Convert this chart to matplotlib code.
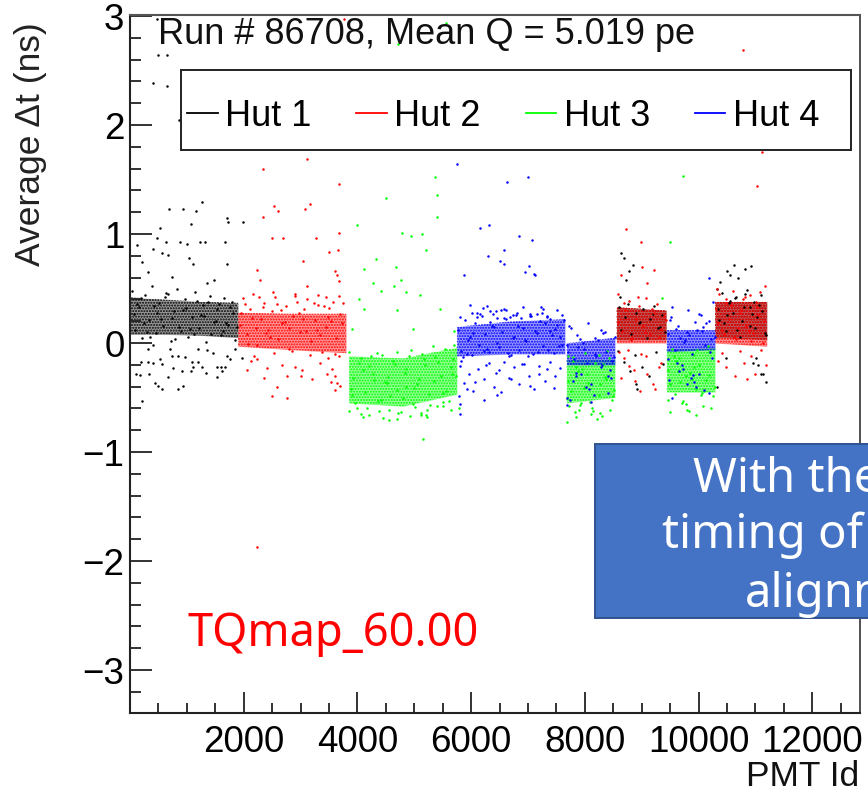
import matplotlib
matplotlib.use("Agg")
import matplotlib.pyplot as plt
from matplotlib.lines import Line2D
from matplotlib.patches import Rectangle

# values
hut1_x = [475, 490, 650, 405, 650, 860, 530, 690, 940, 1160, 1265, 1075, 1710, 1725, 1990, 475,
          120, 405, 565, 670, 215, 1040, 1110, 1710, 315, 740, 1480, 1355, 627, 880, 1008, 1230, 1325, 1677,
          217, 100, 176, 340, 440, 500, 570, 850, 938, 187, 322, 410, 528, 557, 762, 662, 920, 1085, 1200, 1102,
          1260, 1067, 1330, 1525, 1525, 1595, 1670, 1612, 1760, 1700, 733, 850, 967, 703, 322, 410, 1200, 1350,
          1465, 1965, 1846,
          40, 95, 150, 210, 260, 330, 380, 455, 510, 585, 640, 715, 775, 830, 905, 960, 1020, 1085, 1150, 1215,
          1280, 1340, 1410, 1470, 1535, 1600, 1660, 1730, 1790, 1850, 70, 185, 300, 420, 545, 670, 800, 925, 1050,
          1175, 1300, 1430, 1560, 1690, 1820, 120, 240, 360, 480, 610, 745, 870, 990, 1120, 1250, 1380, 1505, 1630,
          1760, 1880,
          8600, 8640, 8700, 8760, 8820, 8900, 8960, 9030, 9090, 9150, 9220, 9290, 9350, 9410, 8590, 8680, 8790,
          8880, 9000, 9120, 9250, 9380, 8620, 8730, 8850, 8970, 9190, 9320, 8900, 8920, 8640, 8680, 8780,
          10320, 10360, 10420, 10480, 10540, 10600, 10660, 10730, 10790, 10850, 10910, 10970, 11030, 11090, 11160,
          10340, 10440, 10560, 10680, 10820, 10940, 11060, 11180, 10380, 10500, 10640, 10770, 10900, 11000, 11120,
          10500, 10560, 10620, 10700, 10820, 10930, 11010, 11100, 11180, 10330, 10480, 11050, 10960, 11140]
hut1_y = [2.97, 2.64, 2.64, 2.39, 2.36, 2.05, 1.06, 1.23, 1.23, 1.21, 1.29, 1.09, 1.15, 1.11, 1.11, 0.96,
          0.90, 0.86, 0.83, 0.81, 0.74, 0.78, 0.73, 0.73, 0.65, 0.61, 0.58, 0.55, 0.93, 0.93, 0.91, 0.93, 0.93, 0.93,
          -0.53, -0.28, -0.29, -0.28, -0.37, -0.39, -0.42, -0.42, -0.39, -0.17, -0.17, -0.18, -0.15, -0.19, -0.23,
          -0.31, -0.26, -0.17, -0.17, -0.22, -0.22, -0.26, -0.27, -0.22, -0.31, -0.22, -0.22, -0.26, -0.15, -0.12,
          -0.12, -0.12, -0.13, -0.05, -0.05, -0.02, -0.05, -0.06, -0.09, -0.14, -0.05,
          0.48, 0.12, 0.33, 0.05, 0.44, 0.21, 0.52, 0.09, 0.37, 0.16, 0.46, 0.02, 0.29, 0.50, 0.11, 0.40, 0.06,
          0.24, 0.47, 0.14, 0.35, 0.01, 0.43, 0.19, 0.31, 0.07, 0.41, 0.17, 0.38, 0.03, 0.27, 0.41, 0.10, 0.34, 0.22,
          0.45, 0.04, 0.30, 0.13, 0.39, 0.25, 0.08, 0.36, 0.18, 0.28, 0.36, 0.18, 0.06, 0.28, 0.42, 0.23, 0.15,
          0.32, 0.08, 0.26, 0.38, 0.20, 0.11, 0.33, 0.15,
          0.33, 0.12, 0.24, 0.36, 0.08, 0.28, 0.18, 0.31, 0.05, 0.22, 0.34, 0.14, 0.26, 0.10, -0.07, -0.17, -0.26,
          -0.11, -0.22, -0.30, -0.08, -0.19, 0.42, 0.58, 0.72, 0.19, 0.27, 0.15, -0.38, -0.42, 0.83, 0.78, 0.66,
          0.50, 0.21, 0.46, 0.11, 0.37, 0.28, 0.42, 0.06, 0.33, 0.49, 0.16, 0.38, 0.24, 0.44, 0.09, 0.31, 0.18, 0.39,
          0.12, 0.45, 0.27, 0.35, 0.07, 0.56, 0.26, 0.41, 0.20, 0.33, 0.14, 0.29, 0.66, 0.62, 0.72, 0.60, 0.68, 0.71,
          -0.14, -0.28, -0.36, -0.40, -0.14, -0.20, -0.18, -0.28]

hut2_x = [3765, 2340, 3110, 3680, 2535, 2600, 3170, 3080, 2340, 3680, 2500, 2690, 3270, 10780, 11115, 11030,
          2230, 3050, 3500, 3660, 2280, 3120, 3640, 3600, 3680, 2520, 2900, 3300, 3450, 3680,
          2060, 2180, 2360, 2410, 2590, 2760, 2900, 3030, 3200, 3340, 3470, 3540, 3610, 3700, 2500, 2760, 3010,
          3600, 3640, 3560, 3480, 2120, 2230, 2680,
          1930, 1990, 2050, 2115, 2170, 2240, 2300, 2365, 2425, 2490, 2550, 2610, 2680, 2740, 2805, 2870, 2930,
          2995, 3060, 3120, 3185, 3250, 3310, 3375, 3440, 3500, 3565, 3625, 3690, 3750, 1960, 2080, 2210, 2340,
          2470, 2590, 2720, 2850, 2970, 3100, 3230, 3350, 3480, 3600, 3720, 2020, 2150, 2270, 2400, 2530, 2660,
          2790, 2910, 3040, 3170, 3290, 3420, 3540, 3670,
          8590, 8650, 8710, 8770, 8830, 8900, 8960, 9020, 9080, 9150, 9210, 9270, 9340, 9400, 8580, 8690, 8810,
          8930, 9050, 9180, 9300, 9420, 8600, 8680, 8770, 8880, 8990, 9100, 9230, 9340, 8640, 8750, 8860,
          8970, 9080, 9190, 9300, 8980, 9210, 8640, 9100,
          10300, 10360, 10420, 10480, 10540, 10600, 10660, 10720, 10780, 10840, 10900, 10960, 11020, 11080, 11150,
          10320, 10440, 10570, 10690, 10810, 10930, 11050, 11170, 10350, 10480, 10620, 10750, 10880, 11010, 11140,
          10350, 10420, 10490, 10640, 10720, 10800, 10930, 11000, 11100, 11190, 10860, 8720, 9010, 2230]
hut2_y = [2.97, 1.60, 1.69, 1.46, 1.26, 1.21, 1.28, 1.23, 1.16, 1.01, 0.96, 0.96, 0.96, 2.69, 1.75, 1.44,
          0.67, 0.75, 0.84, 0.85, 0.58, 0.52, 0.62, 0.66, 0.57, 0.47, 0.45, 0.44, 0.42, 0.43,
          -0.25, -0.12, -0.32, -0.23, -0.40, -0.30, -0.22, -0.25, -0.33, -0.18, -0.28, -0.36, -0.30, -0.39,
          -0.49, -0.50, -0.30, -0.43, -0.37, -0.24, -0.14, -0.16, -0.15, -0.20,
          0.17, 0.41, 0.08, 0.31, 0.45, -0.02, 0.22, 0.37, 0.12, 0.29, 0.42, 0.04, 0.18, 0.34, -0.05, 0.25, 0.38,
          0.10, 0.31, 0.40, 0.02, 0.21, 0.35, -0.08, 0.15, 0.32, 0.38, 0.05, 0.27, 0.37, 0.28, -0.01, 0.14, 0.33,
          0.06, 0.36, 0.19, -0.07, 0.28, 0.11, 0.37, 0.07, 0.24, -0.10, 0.18, 0.36, 0.23, 0.42, 0.09, -0.09, 0.30,
          0.14, 0.43, 0.22, -0.11, 0.12, 0.34, 0.20, -0.12,
          0.45, 0.11, 0.30, 0.39, 0.05, 0.22, 0.34, 0.16, 0.41, 0.08, 0.28, 0.36, 0.13, 0.25, 0.19, 0.37, 0.03,
          0.42, 0.10, 0.31, 0.06, 0.21, -0.08, -0.14, -0.21, -0.35, -0.10, -0.28, -0.42, -0.18, -0.32, -0.06,
          -0.25, -0.44, -0.12, -0.38, -0.22, 0.93, 0.67, 0.62, 0.55,
          0.31, 0.45, 0.12, 0.37, 0.22, 0.48, 0.04, 0.28, 0.40, 0.16, 0.44, 0.09, 0.33, 0.47, 0.20, 0.50, 0.08,
          0.35, 0.14, 0.42, 0.02, 0.26, 0.52, 0.18, 0.40, 0.06, 0.30, 0.11, 0.38, 0.00,
          -0.16, -0.09, -0.22, -0.30, -0.07, -0.18, -0.12, -0.28, -0.06, -0.20, -0.33, 1.05, 0.70, -1.87]

hut3_x = [5560, 4710, 4500, 5365, 5400, 5400, 3990, 4785, 4940, 5135, 4120, 4680, 5200, 4330, 4770, 4420, 4650,
          4270, 5100, 4850, 4020, 5450, 4700, 4980, 5700, 3900, 4120, 5740, 5780, 9730, 9500, 9350,
          3860, 3930, 4000, 4070, 4140, 4210, 4280, 4350, 4420, 4490, 4560, 4630, 4700, 4770, 4840, 4910, 4980,
          5050, 5120, 5190, 5260, 5330, 5400, 5470, 5540, 5610, 5680, 3880, 4020, 4160, 4300, 4440, 4580, 4720,
          4860, 5000, 5140, 5280, 5420, 5560, 5700, 3950, 4100, 4240, 4380, 4520, 4660, 4800, 4940, 5080, 5220,
          5360, 5500, 5640, 3900, 4060, 4210, 4370, 4530, 4690, 4850, 5010, 5170, 5340, 5500, 5660,
          4100, 4450, 4920, 5230, 5120, 4550, 4690, 5500, 3860, 5640, 5160, 5210,
          7700, 7760, 7820, 7880, 7940, 8000, 8060, 8120, 8180, 8240, 8300, 8360, 8420, 8480, 7720, 7850, 7980,
          8110, 8240, 8370, 8500, 7690, 7790, 7910, 8030, 8150, 8270, 8390, 8510, 7700, 7840, 7950, 8090, 8210,
          8320, 8440, 7680, 7900, 8260, 7800,
          9470, 9530, 9590, 9650, 9710, 9770, 9830, 9890, 9950, 10010, 10070, 10130, 10190, 10250, 9490, 9610,
          9730, 9850, 9970, 10090, 10210, 9460, 9560, 9680, 9800, 9920, 10040, 10160, 10280, 9500, 9640, 9780,
          9920, 10060, 9950, 9880, 10190]
hut3_y = [2.94, 2.74, 1.33, 1.52, 1.36, 1.16, 1.08, 1.01, 0.98, 1.0, 0.68, 0.70, 0.85, 0.77, 0.58, 0.48, 0.52,
          0.55, 0.44, 0.47, 0.40, 0.31, 0.30, 0.13, 0.11, 0.13, 0.31, -0.30, -0.60, 1.53, 0.93, 0.41,
          -0.08, -0.32, -0.60, -0.14, -0.45, -0.66, -0.28, -0.09, -0.52, -0.36, -0.61, -0.16, -0.43, -0.63, -0.27,
          -0.12, -0.56, -0.38, -0.66, -0.20, -0.47, -0.03, -0.58, -0.30, -0.05, -0.53, -0.15, -0.42, -0.18, -0.60,
          -0.34, -0.11, -0.49, -0.64, -0.24, -0.41, -0.10, -0.57, -0.17, -0.44, -0.02, -0.55, -0.25, -0.12, -0.62,
          -0.37, -0.19, -0.50, -0.06, -0.33, -0.61, -0.13, -0.46, -0.22, -0.48, -0.65, -0.21, -0.53, -0.31, -0.08,
          -0.40, -0.59, -0.15, -0.35, -0.54, -0.28, -0.68, -0.69, -0.67, -0.68, -0.64, -0.71, -0.70, -0.58, -0.62,
          -0.61, -0.88, -0.66,
          -0.12, -0.44, -0.63, -0.26, -0.55, -0.09, -0.37, -0.60, -0.18, -0.48, -0.67, -0.31, -0.14, -0.52, -0.58,
          -0.22, -0.41, -0.65, -0.11, -0.33, -0.49, -0.72, -0.16, -0.57, -0.28, -0.62, -0.38, -0.07, -0.43, -0.35,
          -0.68, -0.24, -0.54, -0.70, -0.19, -0.61, -0.50, -0.61, -0.64, -0.13,
          -0.25, -0.05, -0.47, -0.14, -0.55, -0.30, -0.62, -0.10, -0.42, -0.20, -0.58, -0.34, -0.08, -0.49, -0.38,
          -0.16, -0.53, -0.27, -0.06, -0.44, -0.60, -0.52, -0.12, -0.36, -0.61, -0.22, -0.48, -0.03, -0.40, -0.63,
          -0.26, -0.56, -0.11, -0.46, -0.66, -0.33, -0.29]

hut4_x = [5750, 6630, 7000, 6160, 6315, 6840, 5870, 6500, 7070, 7120, 7020, 6950, 6580, 6290, 6580, 7110,
          6020, 6110, 6280, 6390, 6450, 6570, 6690, 6800, 6920, 7040, 7160, 7270, 7390, 7510, 7600, 5980, 6200,
          6330, 6620, 6740, 7230, 7330,
          5770, 5830, 5890, 5950, 6010, 6070, 6130, 6190, 6250, 6310, 6370, 6430, 6490, 6550, 6610, 6670, 6730,
          6790, 6850, 6910, 6970, 7030, 7090, 7150, 7210, 7270, 7330, 7390, 7450, 7510, 7570, 7630, 5800, 5920,
          6040, 6160, 6280, 6400, 6520, 6640, 6760, 6880, 7000, 7120, 7240, 7360, 7480, 7600, 5860, 5980, 6100,
          6220, 6340, 6460, 6580, 6700, 6820, 6940, 7060, 7180, 7300, 7420, 7540,
          5800, 5880, 5960, 6040, 6120, 6220, 6310, 6400, 6490, 6580, 6660, 6750, 6840, 6930, 7010, 7100, 7190,
          7290, 7380, 7470, 7560, 5790, 5920, 6060, 6260, 6430, 6530, 6700, 6890, 7040, 7200, 7340, 7460, 5830,
          5810, 5800, 6230, 6450,
          7690, 7750, 7810, 7870, 7930, 7990, 8050, 8110, 8170, 8230, 8290, 8350, 8410, 8470, 8530, 7720, 7840,
          7960, 8080, 8200, 8320, 8440, 7700, 7800, 7920, 8040, 8160, 8280, 8400, 8520, 7740, 7880, 8020, 8180,
          8300, 8460, 7690, 7850, 8100, 8380, 7690,
          9460, 9520, 9580, 9640, 9700, 9760, 9820, 9880, 9940, 10000, 10060, 10120, 10180, 10240, 10290, 9480,
          9600, 9720, 9840, 9960, 10080, 10200, 9500, 9620, 9740, 9860, 9980, 10100, 10220, 9530, 9660, 9790,
          9920, 10050, 10180, 9470, 9680, 9900, 10130, 9540, 9790, 10010, 10260, 10180]
hut4_y = [1.64, 1.48, 1.52, 1.06, 1.08, 0.98, 0.62, 0.75, 0.95, 0.62, 0.71, 0.65, 0.85, 0.80, 0.73, 0.63,
          0.28, 0.24, 0.34, 0.27, 0.23, 0.31, 0.24, 0.28, 0.33, 0.25, 0.27, 0.31, 0.22, 0.30, 0.26, 0.35, 0.32,
          0.29, 0.30, 0.26, 0.33, 0.25,
          0.12, -0.07, 0.21, 0.03, -0.11, 0.18, -0.02, 0.25, 0.08, -0.08, 0.16, 0.29, -0.04, 0.10, 0.22, -0.12,
          0.05, 0.26, -0.06, 0.14, 0.02, 0.27, -0.10, 0.09, 0.20, -0.03, 0.24, 0.11, -0.09, 0.17, 0.06, 0.21, 0.24,
          -0.10, 0.09, 0.27, -0.05, 0.15, 0.30, -0.09, 0.06, 0.23, -0.12, 0.11, 0.28, -0.06, 0.13, -0.02, -0.13,
          0.06, 0.28, -0.07, 0.19, 0.00, 0.23, -0.11, 0.16, 0.03, 0.25, -0.08, 0.18, 0.07, -0.03,
          -0.21, -0.37, -0.28, -0.44, -0.24, -0.33, -0.18, -0.40, -0.25, -0.17, -0.32, -0.22, -0.38, -0.19, -0.30,
          -0.42, -0.21, -0.35, -0.17, -0.30, -0.23, -0.49, -0.42, -0.36, -0.20, -0.27, -0.45, -0.33, -0.19, -0.39,
          -0.28, -0.24, -0.41, -0.16, -0.56, -0.65, -0.52, -0.48,
          -0.02, 0.14, -0.15, 0.07, -0.28, -0.05, 0.18, -0.38, -0.10, 0.03, -0.22, 0.10, -0.46, -0.16, 0.06, 0.16,
          -0.30, 0.00, -0.42, -0.12, 0.09, -0.25, -0.08, -0.35, 0.04, -0.18, -0.48, 0.12, -0.30, -0.13, -0.52, -0.04,
          -0.40, 0.05, -0.20, -0.32, -0.50, -0.27, -0.54, -0.08, -0.57,
          0.08, 0.24, -0.06, 0.16, -0.20, 0.03, 0.30, -0.10, 0.19, -0.28, 0.11, -0.02, 0.20, -0.14, 0.06, -0.34,
          0.13, -0.24, 0.07, -0.40, 0.15, -0.08, 0.21, -0.18, 0.01, -0.32, 0.12, -0.43, 0.04, 0.33, -0.26, 0.10,
          -0.36, 0.26, -0.46, -0.15, 0.05, -0.29, 0.18, -0.50, -0.38, 0.27, 0.38, 0.60]

# dense part of each block, lower and upper edge
hut1_bands = [([0, 600, 1250, 1900], [0.08, 0.08, 0.07, 0.05], [0.42, 0.40, 0.38, 0.37]),
              ([8560, 9430], [0.03, 0.03], [0.33, 0.30]),
              ([10290, 11200], [0.05, 0.03], [0.38, 0.38])]
hut2_bands = [([1900, 2800, 3800], [-0.03, -0.06, -0.09], [0.28, 0.27, 0.27]),
              ([8560, 9430], [0.0, 0.0], [0.33, 0.30]),
              ([10290, 11200], [0.0, -0.03], [0.38, 0.38])]
hut3_bands = [([3850, 4800, 5750], [-0.55, -0.58, -0.47], [-0.12, -0.14, -0.04]),
              ([7680, 8530], [-0.55, -0.50], [-0.15, -0.15]),
              ([9440, 10290], [-0.45, -0.45], [-0.06, -0.04])]
hut4_bands = [([5750, 6700, 7650], [-0.12, -0.10, -0.10], [0.15, 0.20, 0.22]),
              ([7680, 8530], [-0.20, -0.20], [0.0, 0.05]),
              ([9440, 10290], [-0.08, -0.06], [0.12, 0.12])]

labels = ["Hut 1", "Hut 2", "Hut 3", "Hut 4"]
colors = ["#000000", "#ff0000", "#00ff00", "#0000ff"]
xticks = [2000, 4000, 6000, 8000, 10000, 12000]
yticks = [-3, -2, -1, 0, 1, 2, 3]

plt.rcParams["font.family"] = ["Liberation Sans", "DejaVu Sans"]
plt.rcParams["hatch.linewidth"] = 1.0

fig = plt.figure(figsize=(8.68, 7.93), dpi=100)
ax = fig.add_axes([130 / 868, 1 - 713 / 793, 729.5 / 868, 698 / 793])

# dense cores as a tinted, dotted fill, single points on top
for bands, color in zip([hut1_bands, hut2_bands, hut3_bands, hut4_bands], colors):
    for x, lo, hi in bands:
        ax.fill_between(x, lo, hi, color=color, alpha=0.4, lw=0)
        ax.fill_between(x, lo, hi, facecolor="none", edgecolor=color, hatch="......", lw=0)

ax.scatter(hut1_x, hut1_y, s=3.2, c=colors[0], lw=0)
ax.scatter(hut2_x, hut2_y, s=3.2, c=colors[1], lw=0)
ax.scatter(hut3_x, hut3_y, s=3.2, c=colors[2], lw=0)
ax.scatter(hut4_x, hut4_y, s=3.2, c=colors[3], lw=0)

ax.set_xlim(0, 12830)
ax.set_ylim(-3.394, 3.01)
ax.set_xticks(xticks)
ax.set_yticks(yticks)
ax.set_xticks(list(range(500, 12830, 500)), minor=True)
ax.set_yticks([i / 5 for i in range(-16, 15)], minor=True)
ax.tick_params(axis="both", which="major", direction="in", length=16, width=1.3, labelsize=26.5, color="#222222")
ax.tick_params(axis="both", which="minor", direction="in", length=8, width=1.3, color="#222222")
ax.tick_params(axis="x", which="major", length=15, pad=9)
ax.tick_params(axis="x", which="minor", length=7.5)
ax.tick_params(axis="y", which="major", pad=4)
for side in ["left", "bottom"]:
    ax.spines[side].set_linewidth(1.5)
    ax.spines[side].set_color("#222222")
ax.spines["top"].set_linewidth(1.5)
ax.spines["top"].set_color("#555555")
ax.spines["right"].set_linewidth(1.1)
ax.spines["right"].set_color("#222222")

fig.text(859 / 868, 1 - 776 / 793, "PMT Id", fontsize=25.5, ha="right", va="center", color="#111111")
fig.text(31 / 868, 1 - 144 / 793, "Average Δt (ns)", fontsize=25.5, rotation=90, ha="center", va="center", color="#222222")
fig.text(158 / 868, 1 - 34 / 793, "Run # 86708, Mean Q = 5.019 pe", fontsize=26, ha="left", va="center", color="#111111")

# legend box
ax.add_patch(Rectangle((180.5 / 868, 1 - 149.5 / 793), 670 / 868, 79 / 793, transform=fig.transFigure,
                       facecolor="white", edgecolor="#222222", lw=1.4, zorder=5, clip_on=False))
handles = [Line2D([], [], color=c, lw=1.3) for c in colors]
leg = ax.legend(handles, labels, ncol=4, loc="lower left", mode="expand",
                bbox_to_anchor=(187 / 868, 1 - 134 / 793, 632 / 868, 40 / 793),
                bbox_transform=fig.transFigure, fontsize=26, frameon=False, handlelength=0.85, handletextpad=0.2,
                columnspacing=1.0, borderaxespad=0, borderpad=0)
leg.set_zorder(6)

# pasted slide notes on top of the plot
fig.text(187 / 868, 1 - 646 / 793, "TQmap_60.00", fontsize=32.5, color="#ff0000", family="Noto Sans",
         ha="left", va="baseline", zorder=10)
fig.add_artist(Rectangle((594.5 / 868, 1 - 617.5 / 793), 300 / 868, 174 / 793, transform=fig.transFigure,
                         facecolor="#4472c4", edgecolor="#2f528f", lw=1.4, zorder=9))
note_lines = ["With the", "timing of", "alignment"]
note_left = [693, 662, 745]
note_base = [492, 548, 607]
for line, left, base in zip(note_lines, note_left, note_base):
    fig.text(left / 868, 1 - base / 793, line, fontsize=34, color="white", family="Noto Sans",
             ha="left", va="baseline", zorder=10)

fig.savefig("out.png", dpi=100)
